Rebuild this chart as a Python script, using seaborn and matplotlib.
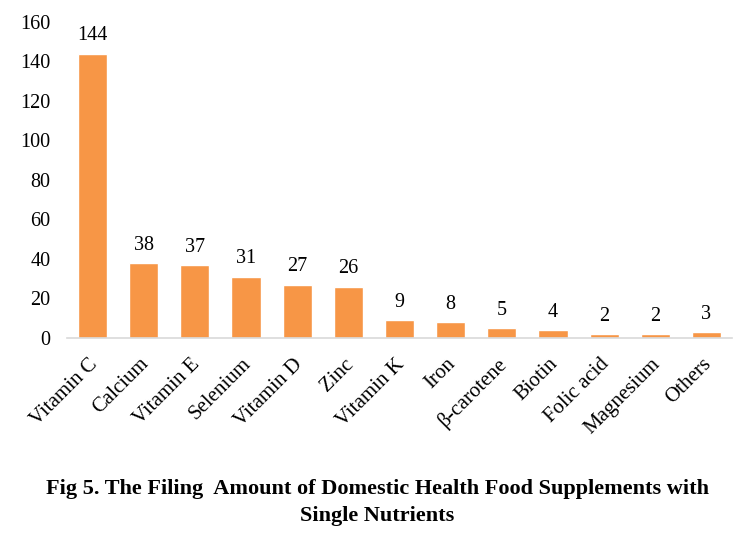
import matplotlib.pyplot as plt
import matplotlib.transforms as mtransforms
import seaborn as sns
import pandas as pd

nutrients = ['Vitamin C', 'Calcium', 'Vitamin E', 'Selenium', 'Vitamin D', 'Zinc',
             'Vitamin K', 'Iron', 'β-carotene', 'Biotin', 'Folic acid', 'Magnesium', 'Others']
amounts = [144, 38, 37, 31, 27, 26, 9, 8, 5, 4, 2, 2, 3]
y_ticks = [0, 20, 40, 60, 80, 100, 120, 140, 160]

df = pd.DataFrame({'nutrient': nutrients, 'amount': amounts})

sns.set_style('white')
plt.rcParams['font.family'] = ['Liberation Serif', 'DejaVu Serif']
plt.rcParams['text.color'] = 'black'
plt.rcParams['xtick.color'] = 'black'
plt.rcParams['ytick.color'] = 'black'

fig = plt.figure(figsize=(7.55, 5.44), dpi=100)
ax = fig.add_axes([0.0887, 0.3787, 0.8808, 0.5809])

sns.barplot(data=df, x='nutrient', y='amount', color='#F79646', width=0.57,
            saturation=1, ax=ax)

for i, v in enumerate(amounts):
    ax.annotate(str(v), (i, v), xytext=(0, 6), textcoords='offset points',
                ha='center', va='bottom', fontsize=14.5)

ax.set_ylim(0, 160)
ax.set_yticks(y_ticks)
ax.tick_params(axis='y', labelsize=14.5, length=0, pad=12)
ax.tick_params(axis='x', labelsize=15, length=0, pad=12)
# small horizontal nudge so the rotated labels line up like the original
offset = mtransforms.ScaledTranslation(-3 / 72, 0, fig.dpi_scale_trans)
for lab in ax.get_xticklabels():
    lab.set_rotation(45)
    lab.set_ha('right')
    lab.set_rotation_mode('anchor')
    lab.set_transform(lab.get_transform() + offset)
ax.set_xlabel('')
ax.set_ylabel('')
for s in ['top', 'right', 'left']:
    ax.spines[s].set_visible(False)
ax.spines['bottom'].set_color('#D9D9D9')
ax.spines['bottom'].set_linewidth(1.2)

fig.text(0.5, 1 - 489 / 544, 'Fig 5. The Filing  Amount of Domestic Health Food Supplements with',
         ha='center', va='center', fontsize=16, fontweight='bold')
fig.text(0.5, 1 - 516 / 544, 'Single Nutrients',
         ha='center', va='center', fontsize=16, fontweight='bold')

plt.savefig('out.png', dpi=100)
